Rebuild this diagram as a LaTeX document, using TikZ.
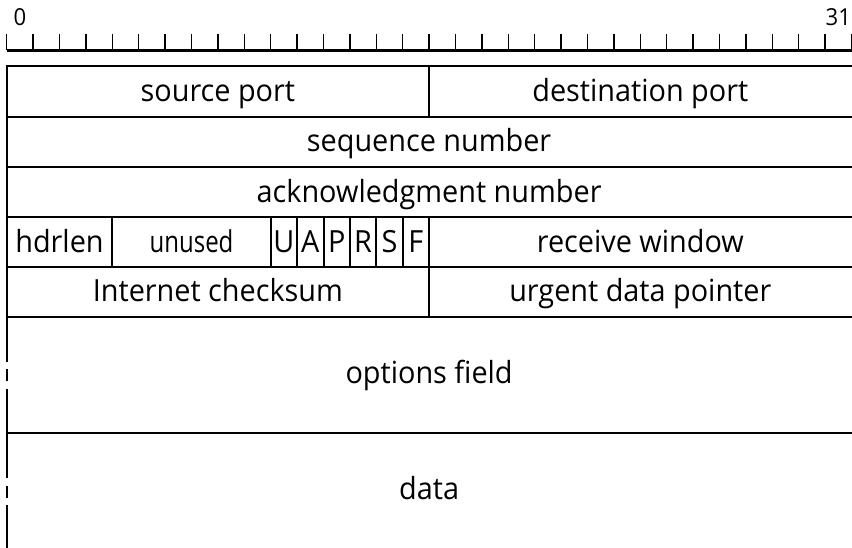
\documentclass[tikz,border=0pt]{standalone}
\usepackage{fontspec}
\setmainfont{Open Sans}
\newfontfamily\fieldfont[FakeStretch=0.945]{Open Sans}
\newfontfamily\narrowfont[FakeStretch=0.8]{Open Sans}

\begin{document}
\begin{tikzpicture}[x=1pt, y=-1pt,
	field/.style={font=\fieldfont\fontsize{30.5}{34}\selectfont, inner sep=0pt, anchor=base},
	smallfield/.style={font=\narrowfont\fontsize{30}{34}\selectfont, inner sep=0pt, anchor=base},
	bitlabel/.style={font=\fieldfont\fontsize{23.4}{27}\selectfont, inner sep=0pt, anchor=base},
	border/.style={line width=2pt}]
	\useasboundingbox (0,0) rectangle (852,548);
	\clip (0,0) rectangle (852,548);
	\def\bw{26.4}
	\def\xo{6.7}
	\draw [line width=2.6pt] (\xo,50.5) -- (860,50.5);
	\foreach \i in {0,...,32}	\draw [line width=1.3pt] (\xo+\i*\bw,34) -- (\xo+\i*\bw,50.5);
	\node [bitlabel] (b0) at (\xo+0.5*\bw,26) {0};
	\node [bitlabel] (b31) at (\xo+31.5*\bw,26) {31};
	\foreach \y in {66.5,116.8,167,217.2,267,316.8,433.2}	\draw [border] (\xo-1,\y) -- (860,\y);
	\draw [border] (\xo,66.5) -- (\xo,316.8);
	\foreach \y in {316.8,433.2}
		\draw [border, dash pattern=on 45pt off 7.5pt on 12pt off 7.5pt on 300pt] (\xo,\y) -- (\xo,\y+116.4);
	\draw [border] (\xo+16*\bw,66.5) -- (\xo+16*\bw,116.8);
	\draw [border] (\xo+16*\bw,217.2) -- (\xo+16*\bw,316.8);
	\foreach \i in {4,10,11,12,13,14,15}	\draw [border] (\xo+\i*\bw,217.2) -- (\xo+\i*\bw,267);
	\node [field] (srcport) at (\xo+8*\bw,101.7) {source port};
	\node [field] (dstport) at (\xo+24*\bw,101.7) {destination port};
	\node [field] (seqnum) at (\xo+16*\bw,152) {sequence number};
	\node [field] (acknum) at (\xo+16*\bw,202.2) {acknowledgment number};
	\node [field] (hdrlen) at (\xo+2*\bw,252.1) {hdrlen};
	\node [smallfield] (unused) at (\xo+7*\bw,252.1) {unused};
	\foreach \f [count=\i from 10] in {U,A,P,R,S,F}
		\node [field] (flag\f) at (\xo+\i*\bw+0.5*\bw,252.1) {\f};
	\node [field] (rwnd) at (\xo+24*\bw,252.1) {receive window};
	\node [field] (checksum) at (\xo+8*\bw,301.9) {Internet checksum};
	\node [field] (urgptr) at (\xo+24*\bw,301.9) {urgent data pointer};
	\node [field] (options) at (\xo+16*\bw,383.3) {options field};
	\node [field] (data) at (\xo+16*\bw,499.3) {data};
\end{tikzpicture}
\end{document}
